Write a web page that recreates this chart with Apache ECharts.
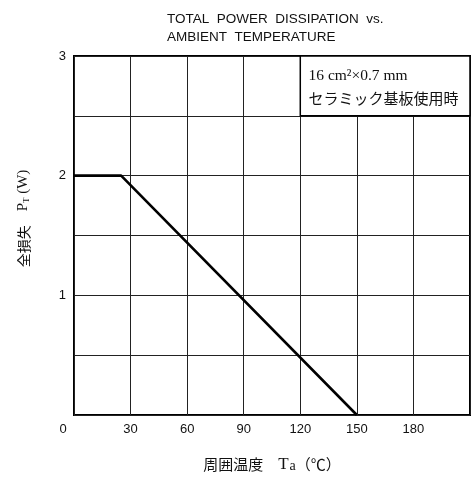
<!DOCTYPE html>
<html><head><meta charset="utf-8">
<script src="https://cdn.jsdelivr.net/npm/echarts@6/dist/echarts.min.js"></script>
<style>html,body{margin:0;padding:0;background:#fff}#c{width:473px;height:479px}</style>
</head><body><div id="c"></div>
<script>
var titleLines = ['TOTAL  POWER  DISSIPATION  vs.', 'AMBIENT  TEMPERATURE'];
var xTicks = [0, 30, 60, 90, 120, 150, 180];
var yTicks = [0, 1, 2, 3];
var tempC = [0, 25, 150];
var powerW = [2, 2, 0];
var noteLines = ['16 cm²×0.7 mm', 'セラミック基板使用時'];
var noteArea = [[120, 2.5], [210, 3]];

var chart = echarts.init(document.getElementById('c'));
var serif = '"Liberation Serif", "Noto Sans CJK JP", serif';
var cjk = '"Noto Sans CJK JP", "Liberation Serif", serif';
var sans = '"Liberation Sans", Arial, sans-serif';
chart.setOption({
  animation: false,
  backgroundColor: '#fff',
  title: {
    text: titleLines.join('\n'),
    left: 162, top: 5,
    textStyle: {fontFamily: sans, fontSize: 13.5, fontWeight: 'normal', color: '#111', lineHeight: 18}
  },
  grid: {left: 74, right: 1, top: 56, bottom: 64, show: true, borderColor: '#000', borderWidth: 2, backgroundColor: 'transparent'},
  xAxis: {
    type: 'value', min: 0, max: 210, interval: 30,
    axisLine: {show: false}, axisTick: {show: false},
    splitLine: {show: true, lineStyle: {color: '#222', width: 1}},
    axisLabel: {
      margin: 8, color: '#111', fontFamily: sans, fontSize: 13,
      formatter: function (v) { if (xTicks.indexOf(v) < 0) return ''; return v === 0 ? '{z|0}' : String(v); },
      rich: {z: {padding: [0, 22, 2, 0], fontSize: 13, fontFamily: sans, color: '#111'}}
    },
    name: '周囲温度　{t|T}{s|a}（℃）',
    nameLocation: 'middle', nameGap: 41,
    nameTextStyle: {
      fontFamily: cjk, fontSize: 15, color: '#111',
      rich: {t: {fontFamily: serif, fontSize: 17, color: '#111', verticalAlign: 'bottom'}, s: {fontFamily: serif, fontSize: 14, color: '#111', verticalAlign: 'bottom', padding: [0, 0, 0, 1]}}
    }
  },
  yAxis: {
    type: 'value', min: 0, max: 3, interval: 0.5,
    axisLine: {show: false}, axisTick: {show: false},
    splitLine: {show: true, lineStyle: {color: '#222', width: 1}},
    axisLabel: {
      margin: 8, color: '#111', fontFamily: sans, fontSize: 13,
      formatter: function (v) { return (yTicks.indexOf(v) >= 0 && v > 0) ? String(v) : ''; }
    },
    name: '全損失　{p|P}{s|T}{p| (W)}',
    nameLocation: 'middle', nameGap: 43, nameRotate: 90,
    nameTextStyle: {
      fontFamily: cjk, fontSize: 14, color: '#111', padding: [0, 0, 0, 34],
      rich: {p: {fontFamily: serif, fontSize: 15, color: '#111', verticalAlign: 'bottom'}, s: {fontFamily: serif, fontSize: 9, color: '#111', verticalAlign: 'bottom'}}
    }
  },
  series: [{
    type: 'line',
    data: tempC.map(function (t, i) { return [t, powerW[i]]; }),
    symbol: 'none',
    lineStyle: {color: '#000', width: 2.6},
    markArea: {
      silent: true,
      itemStyle: {color: '#fff', borderColor: '#000', borderWidth: 1.5},
      label: {
        show: true, position: 'insideTopLeft', distance: 9,
        formatter: '{a|' + noteLines[0] + '}\n{b|' + noteLines[1] + '}',
        rich: {
          a: {fontFamily: serif, fontSize: 15.5, color: '#111', lineHeight: 23},
          b: {fontFamily: cjk, fontSize: 15, color: '#111', lineHeight: 23}
        }
      },
      data: [[{coord: noteArea[0]}, {coord: noteArea[1]}]]
    }
  }]
});
</script></body></html>
